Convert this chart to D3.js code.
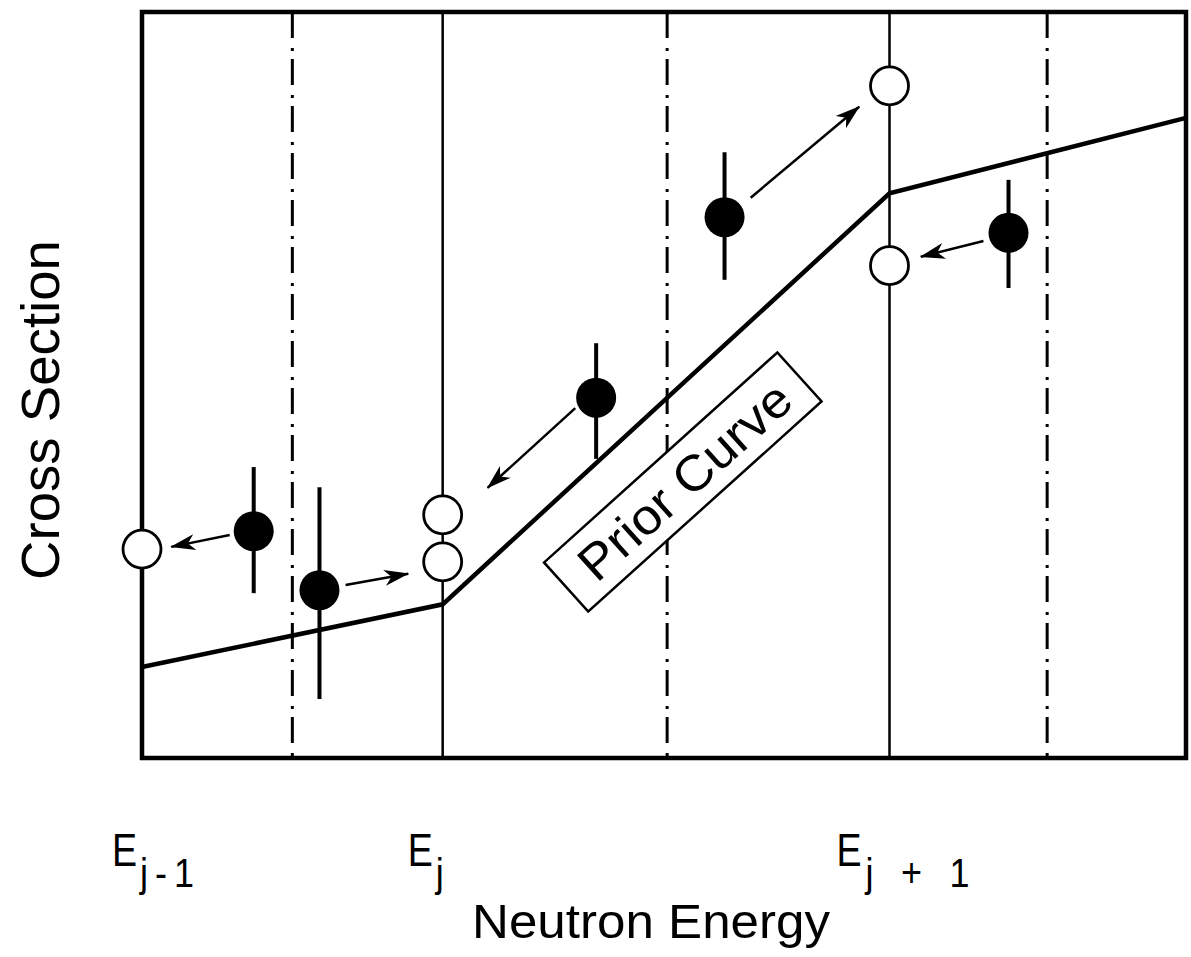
<!DOCTYPE html>
<html><head><meta charset="utf-8">
<script src="https://cdn.jsdelivr.net/npm/d3@7"></script>
<style>body{margin:0;background:#fff}svg{display:block}</style>
</head><body>
<svg id="chart" width="1191" height="957"></svg>
<script>
// ---- data (arbitrary units: energy 0..10, cross section 0..10) ----
const nodeSubs     = ["j-1", "j", "j+1"];
const nodeEnergies = [0, 2.88, 7.16];
const midEnergies  = [1.44, 5.03, 8.67];
const priorX = [0, 2.88, 7.16, 10];
const priorY = [1.22, 2.06, 7.57, 8.58];
const measX  = [1.07, 1.70, 4.35, 5.58, 8.30];
const measY  = [3.04, 2.25, 4.83, 7.25, 7.04];
const measLo = [2.21, 0.79, 4.01, 6.41, 6.30];
const measHi = [3.90, 3.63, 5.56, 8.12, 7.75];
const adjX   = [0, 2.88, 2.88, 7.16, 7.16];
const adjY   = [2.80, 3.26, 2.63, 9.01, 6.60];
const arrowFromX = [0.84, 1.95, 4.15, 5.83, 8.06];
const arrowFromY = [2.99, 2.32, 4.69, 7.51, 6.93];
const arrowToX   = [0.28, 2.55, 3.31, 6.87, 7.46];
const arrowToY   = [2.83, 2.47, 3.62, 8.73, 6.72];
const curveLabel = "Prior Curve";
const curveLabelX = 5.18, curveLabelY = 3.70;
const xTitle = "Neutron Energy";
const yTitle = "Cross Section";

// ---- layout ----
const svg = d3.select("#chart");
const x = d3.scaleLinear().domain([0, 10]).range([142, 1186]);
const y = d3.scaleLinear().domain([0, 10]).range([758, 12]);
const sans = "'Liberation Sans', Arial, Helvetica, sans-serif";

// arrow marker
svg.append("defs").append("marker")
  .attr("id", "ah").attr("markerUnits", "userSpaceOnUse")
  .attr("viewBox", "-26 -10 28 20").attr("refX", 0).attr("refY", 0)
  .attr("markerWidth", 28).attr("markerHeight", 20).attr("orient", "auto")
  .append("path").attr("d", "M1,0 L-24,-8 L-17,0 L-24,8 Z").attr("fill", "#000");

// dash-dot bin boundaries
svg.selectAll("line.mid").data(midEnergies).join("line")
  .attr("class", "mid")
  .attr("x1", d => x(d)).attr("x2", d => x(d))
  .attr("y1", y(10)).attr("y2", y(0))
  .attr("stroke", "#000").attr("stroke-width", 3)
  .attr("stroke-dasharray", "26,10,3,8");

// solid node lines
svg.selectAll("line.node").data(nodeEnergies).join("line")
  .attr("class", "node")
  .attr("x1", d => x(d)).attr("x2", d => x(d))
  .attr("y1", y(10)).attr("y2", y(0))
  .attr("stroke", "#000").attr("stroke-width", 2.5);

// prior curve
const pts = priorX.map((d, i) => [d, priorY[i]]);
svg.append("path").datum(pts)
  .attr("d", d3.line().x(d => x(d[0])).y(d => y(d[1])))
  .attr("fill", "none").attr("stroke", "#000").attr("stroke-width", 4.5)
  .attr("stroke-linejoin", "miter");

// frame
svg.append("rect")
  .attr("x", x(0)).attr("y", y(10))
  .attr("width", x(10) - x(0)).attr("height", y(0) - y(10))
  .attr("fill", "none").attr("stroke", "#000").attr("stroke-width", 4.5);

// Prior Curve label box
const lab = svg.append("g")
  .attr("transform", `translate(${x(curveLabelX)},${y(curveLabelY)}) rotate(-42)`);
lab.append("rect").attr("x", -157).attr("y", -33).attr("width", 314).attr("height", 66)
  .attr("fill", "#fff").attr("stroke", "#000").attr("stroke-width", 2.5);
lab.append("text").text(curveLabel)
  .attr("x", 2).attr("y", 18).attr("text-anchor", "middle")
  .attr("font-family", sans).attr("font-size", 50)
  .attr("textLength", 268).attr("lengthAdjust", "spacingAndGlyphs");

// measurement error bars
svg.selectAll("line.err").data(measX).join("line")
  .attr("class", "err")
  .attr("x1", d => x(d)).attr("x2", d => x(d))
  .attr("y1", (d, i) => y(measLo[i])).attr("y2", (d, i) => y(measHi[i]))
  .attr("stroke", "#000").attr("stroke-width", 4);

// measurements
svg.selectAll("circle.meas").data(measX).join("circle")
  .attr("class", "meas")
  .attr("cx", d => x(d)).attr("cy", (d, i) => y(measY[i])).attr("r", 20)
  .attr("fill", "#000");

// adjusted (open) points
svg.selectAll("circle.adj").data(adjX).join("circle")
  .attr("class", "adj")
  .attr("cx", d => x(d)).attr("cy", (d, i) => y(adjY[i])).attr("r", 19)
  .attr("fill", "#fff").attr("stroke", "#000").attr("stroke-width", 2.8);

// arrows
svg.selectAll("line.arr").data(arrowFromX).join("line")
  .attr("class", "arr")
  .attr("x1", d => x(d)).attr("y1", (d, i) => y(arrowFromY[i]))
  .attr("x2", (d, i) => x(arrowToX[i])).attr("y2", (d, i) => y(arrowToY[i]))
  .attr("stroke", "#000").attr("stroke-width", 2.5)
  .attr("marker-end", "url(#ah)");

// node labels E_sub
const eShift   = [-30, -35, -53];   // E left edge relative to node line
const subGap   = [28, 28, 29];      // subscript start relative to E left edge
const subWidth = [54, 0, 104];      // rendered width of subscript (0 = natural)
nodeEnergies.forEach((e, i) => {
  const x0 = x(e) + eShift[i];
  svg.append("text").text("E")
    .attr("transform", `translate(${x0},866) scale(0.8,1)`)
    .attr("font-family", sans).attr("font-size", 47);
  const s = svg.append("text").text(nodeSubs[i])
    .attr("transform", `translate(${x0 + subGap[i]},887) scale(0.9,1)`)
    .attr("font-family", sans).attr("font-size", 40);
  if (subWidth[i]) s.attr("textLength", subWidth[i] / 0.9).attr("lengthAdjust", "spacing");
});

// axis titles
svg.append("text").text(xTitle)
  .attr("x", 651).attr("y", 938).attr("text-anchor", "middle")
  .attr("font-family", sans).attr("font-size", 48)
  .attr("textLength", 358).attr("lengthAdjust", "spacingAndGlyphs");
svg.append("text").text(yTitle)
  .attr("transform", "translate(59,410) rotate(-90)").attr("text-anchor", "middle")
  .attr("font-family", sans).attr("font-size", 54)
  .attr("textLength", 340).attr("lengthAdjust", "spacingAndGlyphs");
</script>
</body></html>
